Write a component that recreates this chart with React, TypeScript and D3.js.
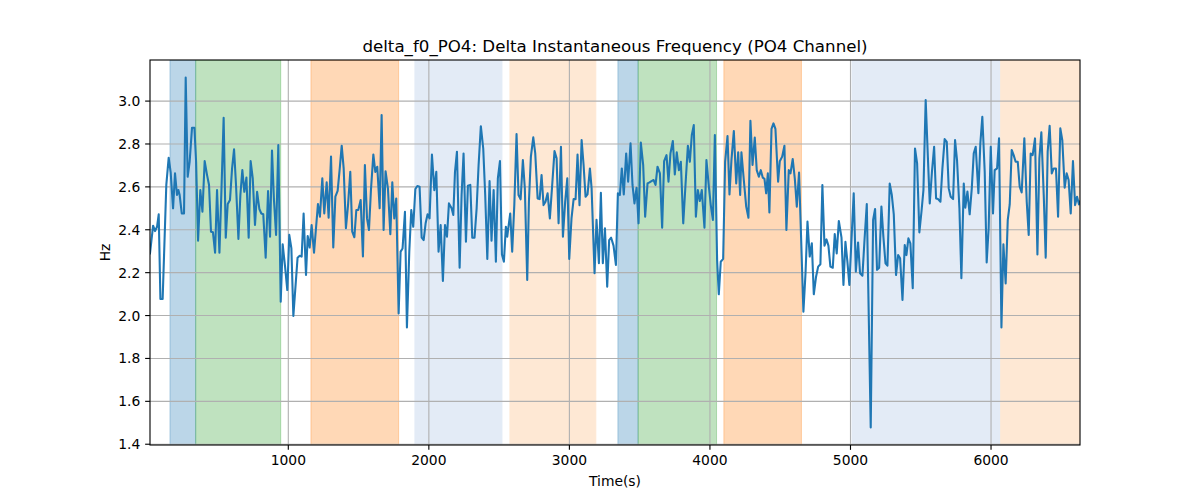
import * as d3 from 'd3'

// delta_f0 samples for the PO4 channel: [time (s), frequency (Hz)]
const freqSamples: [number, number][] = [
  [16, 2.29], [38, 2.419], [52, 2.394], [66, 2.414], [78, 2.472], [90, 2.077], [106, 2.077], [132, 2.609],
  [149, 2.736], [163, 2.668], [180, 2.5], [194, 2.663], [208, 2.562], [218, 2.585], [227, 2.562], [242, 2.476],
  [258, 2.476], [270, 3.11], [284, 2.647], [298, 2.717], [315, 2.876], [332, 2.876], [344, 2.717], [358, 2.349],
  [374, 2.585], [389, 2.484], [405, 2.72], [422, 2.655], [436, 2.609], [450, 2.391], [464, 2.388], [479, 2.293],
  [493, 2.585], [510, 2.293], [524, 2.577], [540, 2.922], [555, 2.363], [569, 2.52], [585, 2.539], [600, 2.686],
  [614, 2.775], [628, 2.609], [645, 2.357], [659, 2.562], [673, 2.678], [687, 2.577], [702, 2.643], [718, 2.363],
  [732, 2.72], [747, 2.64], [763, 2.422], [778, 2.577], [794, 2.497], [808, 2.476], [822, 2.472], [839, 2.27],
  [856, 2.581], [870, 2.368], [884, 2.769], [898, 2.539], [913, 2.376], [929, 2.795], [946, 2.065], [960, 2.332],
  [977, 2.228], [993, 2.119], [1007, 2.376], [1022, 2.313], [1036, 1.998],
  [1066, 2.27], [1081, 2.279], [1095, 2.275], [1109, 2.476], [1126, 2.189], [1138, 2.371], [1152, 2.317],
  [1166, 2.422], [1183, 2.293], [1197, 2.407], [1211, 2.52], [1225, 2.461], [1242, 2.64], [1256, 2.476],
  [1273, 2.621], [1287, 2.456], [1304, 2.741], [1320, 2.317], [1335, 2.554], [1351, 2.581], [1365, 2.678],
  [1380, 2.792], [1394, 2.686], [1410, 2.407], [1425, 2.515], [1441, 2.67], [1455, 2.391], [1470, 2.365],
  [1484, 2.492], [1498, 2.492], [1515, 2.539], [1531, 2.275], [1545, 2.702], [1560, 2.453], [1574, 2.399],
  [1588, 2.585], [1605, 2.751], [1619, 2.67], [1633, 2.694], [1650, 2.5], [1664, 2.935], [1678, 2.399],
  [1692, 2.673], [1709, 2.592], [1726, 2.379], [1740, 2.621], [1754, 2.453], [1768, 2.546], [1785, 2.01],
  [1799, 2.298], [1813, 2.313], [1830, 2.484], [1844, 1.944], [1861, 2.301], [1875, 2.492], [1889, 2.414],
  [1904, 2.59], [1918, 2.604], [1934, 2.601], [1949, 2.363], [1963, 2.352], [1977, 2.43], [1991, 2.472],
  [2005, 2.453], [2022, 2.751], [2039, 2.585], [2053, 2.67], [2069, 2.298], [2084, 2.422], [2100, 2.161],
  [2115, 2.422], [2129, 2.368],
  [2143, 2.523], [2162, 2.5], [2174, 2.469], [2186, 2.67], [2200, 2.764], [2219, 2.223], [2233, 2.562],
  [2247, 2.756], [2264, 2.344], [2278, 2.605], [2295, 2.609], [2309, 2.363], [2325, 2.363], [2340, 2.5],
  [2354, 2.702], [2370, 2.883], [2387, 2.779], [2401, 2.562], [2416, 2.264], [2432, 2.627], [2446, 2.349],
  [2461, 2.585], [2477, 2.251], [2491, 2.64], [2506, 2.72], [2520, 2.285], [2534, 2.251], [2548, 2.414],
  [2558, 2.368], [2565, 2.407], [2579, 2.476], [2593, 2.298], [2608, 2.515], [2624, 2.846], [2638, 2.562],
  [2653, 2.542], [2669, 2.725], [2683, 2.593], [2700, 2.166], [2712, 2.531], [2726, 2.741], [2743, 2.831],
  [2757, 2.756], [2774, 2.546], [2788, 2.543], [2802, 2.655], [2816, 2.515], [2830, 2.531], [2845, 2.57],
  [2861, 2.453], [2876, 2.593], [2894, 2.767], [2909, 2.733], [2923, 2.43], [2940, 2.787], [2954, 2.368],
  [2970, 2.531], [2985, 2.64], [2999, 2.264], [3015, 2.453], [3030, 2.543], [3044, 2.543], [3058, 2.751],
  [3072, 2.515], [3087, 2.818], [3101, 2.702], [3115, 2.554], [3129, 2.565], [3146, 2.686], [3158, 2.593],
  [3179, 2.197], [3193, 2.446], [3210, 2.244], [3224, 2.572], [3238, 2.244], [3253, 2.407],
  [3269, 2.135], [3283, 2.352], [3297, 2.363], [3314, 2.326], [3331, 2.236], [3345, 2.57], [3359, 2.562],
  [3373, 2.686], [3387, 2.565], [3404, 2.756], [3418, 2.624], [3435, 2.803], [3449, 2.609], [3463, 2.523],
  [3478, 2.596], [3492, 2.43], [3508, 2.807], [3525, 2.702], [3539, 2.461], [3556, 2.616], [3570, 2.621],
  [3584, 2.627], [3599, 2.632], [3613, 2.609], [3627, 2.694], [3644, 2.663], [3660, 2.41], [3674, 2.72],
  [3691, 2.748], [3705, 2.624], [3719, 2.756], [3736, 2.814], [3750, 2.658], [3764, 2.761], [3779, 2.678],
  [3793, 2.717], [3810, 2.43], [3826, 2.609], [3843, 2.792], [3857, 2.717], [3871, 2.842], [3885, 2.888],
  [3900, 2.461], [3914, 2.585], [3928, 2.534], [3942, 2.585], [3961, 2.41], [3975, 2.725], [3990, 2.616],
  [4006, 2.515], [4021, 2.446], [4035, 2.842], [4051, 2.259], [4063, 2.099], [4077, 2.251], [4094, 2.264],
  [4108, 2.717], [4125, 2.837], [4139, 2.565], [4153, 2.725], [4170, 2.86], [4187, 2.616], [4201, 2.761],
  [4215, 2.562], [4224, 2.761], [4241, 2.632], [4258, 2.508], [4274, 2.456], [4288, 2.908], [4303, 2.702],
  [4319, 2.83], [4333, 2.678], [4348, 2.647], [4362, 2.678], [4376, 2.643], [4388, 2.637], [4400, 2.57],
  [4412, 2.663], [4423, 2.481], [4438, 2.87], [4452, 2.896], [4466, 2.87], [4485, 2.624], [4497, 2.72],
  [4514, 2.741], [4530, 2.792], [4544, 2.399], [4561, 2.678], [4573, 2.663], [4589, 2.73], [4604, 2.637],
  [4618, 2.508], [4634, 2.667], [4651, 2.313], [4665, 2.018], [4680, 2.197], [4694, 2.438], [4710, 2.275],
  [4725, 2.337], [4739, 2.099], [4755, 2.181], [4770, 2.228], [4786, 2.239], [4800, 2.609], [4815, 2.326],
  [4829, 2.355], [4843, 2.326], [4857, 2.228], [4874, 2.223], [4888, 2.38], [4902, 2.29], [4917, 2.441],
  [4936, 2.363], [4950, 2.143], [4964, 2.344], [4978, 2.251], [4992, 2.143], [5007, 2.352], [5023, 2.57],
  [5038, 2.205], [5054, 2.341], [5068, 2.197], [5085, 2.186], [5099, 2.344], [5116, 2.52], [5144, 1.478],
  [5161, 2.446], [5175, 2.497], [5189, 2.213], [5204, 2.223], [5220, 2.508], [5234, 2.368], [5249, 2.244],
  [5263, 2.233], [5279, 2.616], [5294, 2.562], [5308, 2.472], [5324, 2.189], [5339, 2.282], [5353, 2.267],
  [5370, 2.073], [5386, 2.329],
  [5398, 2.282], [5412, 2.36], [5426, 2.337], [5443, 2.127], [5459, 2.779], [5474, 2.71], [5490, 2.388],
  [5505, 2.484], [5519, 2.585], [5535, 3.005], [5550, 2.748], [5564, 2.523], [5580, 2.674], [5595, 2.787],
  [5609, 2.546], [5623, 2.543], [5640, 2.531], [5654, 2.686], [5670, 2.823], [5685, 2.81], [5699, 2.593],
  [5713, 2.554], [5730, 2.543], [5744, 2.818], [5758, 2.725], [5775, 2.5], [5789, 2.174], [5806, 2.616],
  [5817, 2.503], [5832, 2.578], [5848, 2.472], [5863, 2.593], [5877, 2.756], [5891, 2.787], [5910, 2.57],
  [5924, 2.803], [5938, 2.927], [5955, 2.671], [5969, 2.248], [5983, 2.407], [5998, 2.787], [6014, 2.476],
  [6026, 2.678], [6043, 2.686], [6057, 2.826], [6074, 1.944], [6088, 2.332], [6104, 2.15], [6119, 2.446],
  [6133, 2.518], [6147, 2.772], [6161, 2.748], [6175, 2.717], [6190, 2.717], [6204, 2.601], [6218, 2.574],
  [6237, 2.826], [6254, 2.531], [6268, 2.376], [6282, 2.756], [6296, 2.748], [6313, 2.826], [6330, 2.285],
  [6344, 2.733], [6358, 2.854], [6375, 2.562], [6389, 2.27], [6403, 2.764], [6417, 2.885], [6432, 2.663],
  [6446, 2.686], [6462, 2.686], [6477, 2.461], [6493, 2.873], [6507, 2.818], [6524, 2.596], [6538, 2.663],
  [6552, 2.632], [6567, 2.476], [6583, 2.72], [6598, 2.515], [6612, 2.554], [6626, 2.518], [6633, 2.531],
]

// shaded segments (seconds) and their kind
const spanStarts = [158, 341, 1161, 1901, 2577, 3345, 3489, 4099, 5011, 6069]
const spanEnds = [341, 946, 1785, 2520, 3188, 3489, 4047, 4651, 6069, 6633]
const spanKinds = ['blue', 'green', 'orange', 'paleBlue', 'paleOrange', 'blue', 'green', 'orange', 'paleBlue', 'paleOrange']

const xTickValues = [1000, 2000, 3000, 4000, 5000, 6000]
const yTickValues = [1.4, 1.6, 1.8, 2.0, 2.2, 2.4, 2.6, 2.8, 3.0]

const spanColors: Record<string, { fill: string; opacity: number }> = {
  blue: { fill: '#1f77b4', opacity: 0.3 },
  green: { fill: '#2ca02c', opacity: 0.3 },
  orange: { fill: '#ff7f0e', opacity: 0.3 },
  paleBlue: { fill: '#e3ebf6', opacity: 1 },
  paleOrange: { fill: '#fee8d4', opacity: 1 },
}

const font = '"DejaVu Sans", sans-serif'
// matplotlib at 100 dpi: 1pt = 100/72 px
const pt = 100 / 72

export default function App() {
  const width = 1200
  const height = 500
  const margin = { top: 60, right: 120, bottom: 55, left: 150 }
  const innerRight = width - margin.right
  const innerBottom = height - margin.bottom
  const tickLen = 3.5 * pt
  const tickFont = 10 * pt

  const xExtent = d3.extent(freqSamples, (d) => d[0]) as [number, number]
  const yExtent = d3.extent(freqSamples, (d) => d[1]) as [number, number]
  const yPad = (yExtent[1] - yExtent[0]) * 0.05

  const x = d3.scaleLinear().domain(xExtent).range([margin.left, innerRight])
  const y = d3
    .scaleLinear()
    .domain([yExtent[0] - yPad, yExtent[1] + yPad])
    .range([innerBottom, margin.top])

  const line = d3
    .line<[number, number]>()
    .x((d) => x(d[0]))
    .y((d) => y(d[1]))

  return (
    <svg
      width={width}
      height={height}
      viewBox={`0 0 ${width} ${height}`}
      style={{ position: 'absolute', left: 0, top: 0, background: '#fff' }}
      fontFamily={font}
    >
      <defs>
        <clipPath id="plotArea">
          <rect x={margin.left} y={margin.top} width={innerRight - margin.left} height={innerBottom - margin.top} />
        </clipPath>
      </defs>

      <g clipPath="url(#plotArea)">
        {spanStarts.map((start, i) => {
          const style = spanColors[spanKinds[i]]
          const x0 = x(start)
          const x1 = x(spanEnds[i])
          return (
            <rect
              key={`span-${i}`}
              x={x0}
              y={margin.top}
              width={Math.max(0, x1 - x0)}
              height={innerBottom - margin.top}
              fill={style.fill}
              fillOpacity={style.opacity}
              stroke={style.fill}
              strokeOpacity={style.opacity}
              strokeWidth={1}
            />
          )
        })}

        {yTickValues.map((tick) => (
          <line
            key={`gy-${tick}`}
            x1={margin.left}
            x2={innerRight}
            y1={y(tick)}
            y2={y(tick)}
            stroke="#b0b0b0"
            strokeWidth={0.8 * pt}
          />
        ))}
        {xTickValues.map((tick) => (
          <line
            key={`gx-${tick}`}
            x1={x(tick)}
            x2={x(tick)}
            y1={margin.top}
            y2={innerBottom}
            stroke="#b0b0b0"
            strokeWidth={0.8 * pt}
          />
        ))}

        <path
          d={line(freqSamples) ?? ''}
          fill="none"
          stroke="#1f77b4"
          strokeWidth={1.5 * pt}
          strokeLinejoin="round"
          strokeLinecap="square"
        />
      </g>

      <rect
        x={margin.left}
        y={margin.top}
        width={innerRight - margin.left}
        height={innerBottom - margin.top}
        fill="none"
        stroke="#000"
        strokeWidth={0.8 * pt}
      />

      {xTickValues.map((tick) => (
        <g key={`tx-${tick}`} transform={`translate(${x(tick)},${innerBottom})`}>
          <line y1={0} y2={tickLen} stroke="#000" strokeWidth={0.8 * pt} />
          <text y={2 * tickLen + 10.6} textAnchor="middle" fontSize={tickFont} fill="#000">
            {tick}
          </text>
        </g>
      ))}

      {yTickValues.map((tick) => (
        <g key={`ty-${tick}`} transform={`translate(${margin.left},${y(tick)})`}>
          <line x1={0} x2={-tickLen} stroke="#000" strokeWidth={0.8 * pt} />
          <text x={-2 * tickLen} y={5} textAnchor="end" fontSize={tickFont} fill="#000">
            {tick.toFixed(1)}
          </text>
        </g>
      ))}

      <text x={(margin.left + innerRight) / 2} y={margin.top - 6 * pt} textAnchor="middle" fontSize={12 * pt} fill="#000">
        delta_f0_PO4: Delta Instantaneous Frequency (PO4 Channel)
      </text>
      <text x={(margin.left + innerRight) / 2} y={486} textAnchor="middle" fontSize={tickFont} fill="#000">
        Time(s)
      </text>
      <text
        transform={`translate(110,${(margin.top + innerBottom) / 2}) rotate(-90)`}
        textAnchor="middle"
        fontSize={tickFont}
        fill="#000"
      >
        Hz
      </text>
    </svg>
  )
}
